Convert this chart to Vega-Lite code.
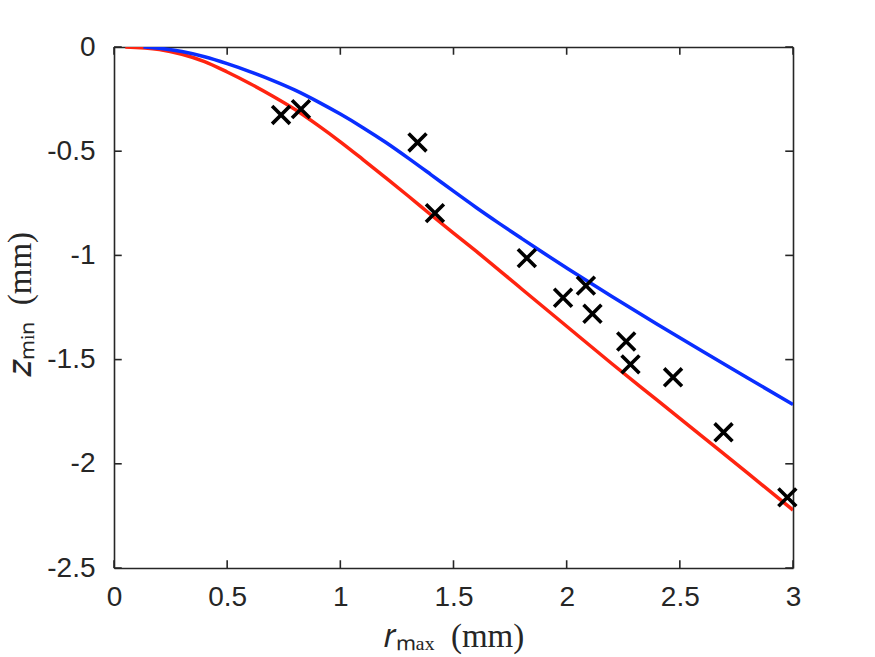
{
  "$schema": "https://vega.github.io/schema/vega-lite/v6.json",
  "width": 679,
  "height": 521,
  "autosize": {"type": "none"},
  "padding": {"left": 114, "top": 47, "right": 82, "bottom": 89},
  "background": "white",
  "config": {
    "view": {"stroke": null, "fill": null},
    "axis": {
      "grid": false,
      "ticks": false,
      "domainColor": "#262626",
      "domainWidth": 1.6,
      "labelColor": "#262626",
      "labelFont": "Liberation Sans",
      "labelFontSize": 28,
      "titleColor": "#262626",
      "titleFont": "Liberation Serif",
      "titleFontSize": 33,
      "titleFontWeight": "normal"
    }
  },
  "datasets": {
    "xticks": [{"v": 0}, {"v": 0.5}, {"v": 1}, {"v": 1.5}, {"v": 2}, {"v": 2.5}, {"v": 3}],
    "yticks": [{"v": 0}, {"v": -0.5}, {"v": -1}, {"v": -1.5}, {"v": -2}, {"v": -2.5}],
    "curves": [
      {"model": "A", "r": 0.05, "z": 0.0},
      {"model": "A", "r": 0.2, "z": -0.012},
      {"model": "A", "r": 0.3, "z": -0.035},
      {"model": "A", "r": 0.4, "z": -0.07},
      {"model": "A", "r": 0.5, "z": -0.12},
      {"model": "A", "r": 0.6, "z": -0.175},
      {"model": "A", "r": 0.7, "z": -0.235},
      {"model": "A", "r": 0.8, "z": -0.3},
      {"model": "A", "r": 0.9, "z": -0.375},
      {"model": "A", "r": 1.0, "z": -0.455},
      {"model": "A", "r": 1.1, "z": -0.54},
      {"model": "A", "r": 1.2, "z": -0.627},
      {"model": "A", "r": 1.3, "z": -0.715},
      {"model": "A", "r": 1.4, "z": -0.805},
      {"model": "A", "r": 1.5, "z": -0.893},
      {"model": "A", "r": 1.6, "z": -0.98},
      {"model": "A", "r": 1.8, "z": -1.16},
      {"model": "A", "r": 2.0, "z": -1.34},
      {"model": "A", "r": 2.2, "z": -1.52},
      {"model": "A", "r": 2.4, "z": -1.695},
      {"model": "A", "r": 2.6, "z": -1.87},
      {"model": "A", "r": 2.8, "z": -2.045},
      {"model": "A", "r": 3.0, "z": -2.222},
      {"model": "B", "r": 0.13, "z": 0.0},
      {"model": "B", "r": 0.2, "z": -0.006},
      {"model": "B", "r": 0.3, "z": -0.022},
      {"model": "B", "r": 0.4, "z": -0.047},
      {"model": "B", "r": 0.5, "z": -0.08},
      {"model": "B", "r": 0.6, "z": -0.118},
      {"model": "B", "r": 0.7, "z": -0.16},
      {"model": "B", "r": 0.8, "z": -0.207},
      {"model": "B", "r": 0.9, "z": -0.262},
      {"model": "B", "r": 1.0, "z": -0.322},
      {"model": "B", "r": 1.1, "z": -0.387},
      {"model": "B", "r": 1.2, "z": -0.457},
      {"model": "B", "r": 1.3, "z": -0.533},
      {"model": "B", "r": 1.4, "z": -0.612},
      {"model": "B", "r": 1.5, "z": -0.692},
      {"model": "B", "r": 1.6, "z": -0.77},
      {"model": "B", "r": 1.7, "z": -0.845},
      {"model": "B", "r": 1.8, "z": -0.918},
      {"model": "B", "r": 1.9, "z": -0.99},
      {"model": "B", "r": 2.0, "z": -1.06},
      {"model": "B", "r": 2.2, "z": -1.197},
      {"model": "B", "r": 2.4, "z": -1.33},
      {"model": "B", "r": 2.6, "z": -1.46},
      {"model": "B", "r": 2.8, "z": -1.588},
      {"model": "B", "r": 3.0, "z": -1.716}
    ],
    "measured": [
      {"r": 0.738, "z": -0.326},
      {"r": 0.826, "z": -0.298},
      {"r": 1.341, "z": -0.458},
      {"r": 1.418, "z": -0.797},
      {"r": 1.824, "z": -1.013},
      {"r": 1.984, "z": -1.203},
      {"r": 2.085, "z": -1.145},
      {"r": 2.114, "z": -1.280},
      {"r": 2.263, "z": -1.413},
      {"r": 2.282, "z": -1.523},
      {"r": 2.470, "z": -1.585},
      {"r": 2.693, "z": -1.849},
      {"r": 2.975, "z": -2.161}
    ]
  },
  "resolve": {"axis": {"x": "independent", "y": "independent"}},
  "layer": [
    {
      "data": {"name": "curves"},
      "transform": [{"filter": "datum.model === 'A'"}],
      "mark": {"type": "line", "color": "#ff2410", "strokeWidth": 3.5, "interpolate": "monotone", "clip": true},
      "encoding": {
        "x": {
          "field": "r", "type": "quantitative",
          "scale": {"domain": [0, 3], "nice": false, "zero": false},
          "axis": {
            "orient": "bottom",
            "values": [0, 0.5, 1, 1.5, 2, 2.5, 3],
            "labelExpr": "'' + datum.value",
            "labelPadding": 15,
            "labelFlush": false,
            "title": "𝑟ₘₐₓ\u2002(mm)",
            "titleY": 78,
            "titleAlign": "center",
            "titleBaseline": "alphabetic"
          }
        },
        "y": {
          "field": "z", "type": "quantitative",
          "scale": {"domain": [-2.5, 0], "nice": false, "zero": false},
          "axis": {
            "orient": "left",
            "values": [0, -0.5, -1, -1.5, -2, -2.5],
            "labelExpr": "'' + datum.value",
            "labelPadding": 19,
            "labelFlush": false,
            "title": "𝑧ₘᵢₙ\u2002(mm)",
            "titleX": -94,
            "titleY": 257,
            "titleAngle": -90,
            "titleAlign": "center",
            "titleBaseline": "middle"
          }
        }
      }
    },
    {
      "data": {"name": "curves"},
      "transform": [{"filter": "datum.model === 'B'"}],
      "mark": {"type": "line", "color": "#0a2eff", "strokeWidth": 3.5, "interpolate": "monotone", "clip": true},
      "encoding": {
        "x": {"field": "r", "type": "quantitative", "axis": null},
        "y": {"field": "z", "type": "quantitative", "axis": null}
      }
    },
    {
      "data": {"name": "xticks"},
      "mark": {"type": "point", "shape": "M0,0L0,-1", "filled": false, "color": "#262626", "strokeWidth": 1.6, "size": 240, "opacity": 1},
      "encoding": {
        "x": {"field": "v", "type": "quantitative", "axis": null},
        "y": {"datum": -2.5, "type": "quantitative", "axis": null}
      }
    },
    {
      "data": {"name": "xticks"},
      "mark": {"type": "point", "shape": "M0,0L0,1", "filled": false, "color": "#262626", "strokeWidth": 1.6, "size": 240, "opacity": 1},
      "encoding": {
        "x": {"field": "v", "type": "quantitative", "axis": null},
        "y": {"datum": 0, "type": "quantitative", "axis": null}
      }
    },
    {
      "data": {"name": "yticks"},
      "mark": {"type": "point", "shape": "M0,0L1,0", "filled": false, "color": "#262626", "strokeWidth": 1.6, "size": 240, "opacity": 1},
      "encoding": {
        "x": {"datum": 0, "type": "quantitative", "axis": null},
        "y": {"field": "v", "type": "quantitative", "axis": null}
      }
    },
    {
      "data": {"name": "yticks"},
      "mark": {"type": "point", "shape": "M0,0L-1,0", "filled": false, "color": "#262626", "strokeWidth": 1.6, "size": 240, "opacity": 1},
      "encoding": {
        "x": {"datum": 3, "type": "quantitative", "axis": null},
        "y": {"field": "v", "type": "quantitative", "axis": null}
      }
    },
    {
      "data": {"name": "measured"},
      "mark": {
        "type": "point",
        "shape": "M-1,-1L1,1M1,-1L-1,1",
        "filled": false,
        "color": "black",
        "strokeWidth": 3.6,
        "size": 320,
        "opacity": 1
      },
      "encoding": {
        "x": {
          "field": "r", "type": "quantitative",
          "axis": {"orient": "top", "labels": false, "title": null}
        },
        "y": {
          "field": "z", "type": "quantitative",
          "axis": {"orient": "right", "labels": false, "title": null}
        }
      }
    }
  ]
}
